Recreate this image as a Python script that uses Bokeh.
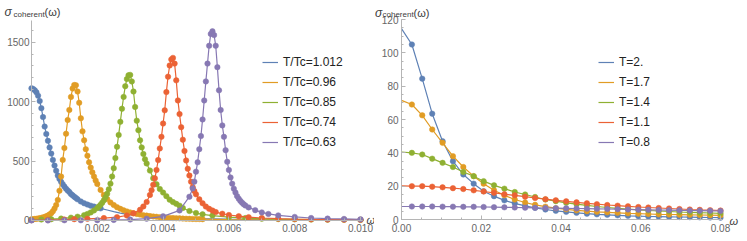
from bokeh.plotting import figure
from bokeh.layouts import row
from bokeh.models import FixedTicker, NumeralTickFormatter, Label, Legend, LegendItem, Range1d
from bokeh.embed import file_html
from bokeh.resources import INLINE

# ---------------- data: left panel (sigma_coherent vs omega, T/Tc) ----------------
left_labels = ["T/Tc=1.012", "T/Tc=0.96", "T/Tc=0.85", "T/Tc=0.74", "T/Tc=0.63"]

blue_w = [0, 0.00005, 0.0001, 0.00015, 0.0002, 0.00025, 0.0003, 0.00035, 0.0004, 0.00045,
          0.0005, 0.00055, 0.0006, 0.00065, 0.0007, 0.00075, 0.0008, 0.00085, 0.0009, 0.00095,
          0.001, 0.00105, 0.0011, 0.00115, 0.0012, 0.00125, 0.0013, 0.00135, 0.0014, 0.0015,
          0.0016, 0.0017, 0.0018, 0.0019, 0.002, 0.0021]
blue_s = [1112, 1107, 1095, 1078, 1050, 1005, 945, 870, 790, 728,
          670, 615, 563, 510, 462, 418, 378, 350, 325, 305,
          285, 268, 253, 240, 222, 212, 200, 190, 178, 160,
          145, 134, 125, 117, 109, 102]
blue_tail_w = [0.0021, 0.0023, 0.0025, 0.0027, 0.003, 0.0035, 0.004, 0.0045, 0.005, 0.006, 0.007, 0.008, 0.009, 0.0101]
blue_tail_s = [102, 88, 74, 62, 48, 34, 25, 20, 16, 11, 8, 6, 5, 4]

orange_w = [0, 0.00005, 0.0001, 0.00015, 0.0002, 0.00025, 0.0003, 0.00035, 0.0004, 0.00045,
            0.0005, 0.00055, 0.0006, 0.00065, 0.0007, 0.00075, 0.0008, 0.00085, 0.0009, 0.00095,
            0.001, 0.00105, 0.0011, 0.00115, 0.0012, 0.00125, 0.0013, 0.00135, 0.0014, 0.00145,
            0.0015, 0.00155, 0.0016, 0.00165, 0.0017, 0.00175, 0.0018, 0.00185, 0.0019, 0.00195,
            0.002, 0.0021, 0.0022, 0.0023, 0.0024, 0.0025, 0.0026, 0.0027, 0.0028, 0.0029,
            0.003, 0.0031, 0.0032, 0.0033, 0.0034, 0.0035, 0.0036, 0.0037, 0.0038, 0.0039,
            0.004, 0.0041, 0.0042, 0.0043, 0.0044, 0.0045, 0.0046, 0.0047, 0.0048, 0.0049,
            0.005, 0.0051, 0.0052]
orange_s = [10, 11, 13, 14, 16, 19, 22, 26, 30, 35,
            42, 50, 62, 77, 100, 130, 173, 250, 370, 510,
            610, 730, 845, 930, 1040, 1110, 1140, 1138, 1085, 990,
            860, 750, 675, 600, 545, 490, 445, 405, 370, 337,
            307, 257, 215, 180, 152, 130, 112, 98, 86, 76,
            68, 61, 55, 50, 45, 41, 37, 34, 31, 28,
            26, 24, 22, 20, 19, 18, 16, 15, 14, 13,
            12, 12, 11]
orange_tail_w = [0.0052, 0.006, 0.007, 0.008, 0.009, 0.0101]
orange_tail_s = [11, 8, 6, 5, 4, 3]

green_w = [0, 0.0003, 0.0006, 0.0009, 0.0012, 0.0014, 0.0016, 0.0017, 0.0018, 0.0019,
           0.002, 0.00205, 0.0021, 0.00215, 0.0022, 0.00225, 0.0023, 0.00235, 0.0024, 0.00245,
           0.0025, 0.00255, 0.0026, 0.00265, 0.0027, 0.00275, 0.0028, 0.00285, 0.0029, 0.00295,
           0.003, 0.00305, 0.0031, 0.00315, 0.0032, 0.00325, 0.0033, 0.00335, 0.0034, 0.00345,
           0.0035, 0.0036, 0.0037, 0.0038, 0.0039, 0.004, 0.0041, 0.0042, 0.0043, 0.0044,
           0.0045, 0.0046, 0.0048, 0.005, 0.0052, 0.0055, 0.006, 0.0065, 0.007, 0.0075,
           0.008, 0.0085, 0.009, 0.0095, 0.01]
green_s = [5, 8, 11, 16, 24, 32, 45, 55, 68, 85,
           105, 118, 132, 150, 170, 195, 225, 262, 310, 370,
           440, 525, 620, 720, 830, 940, 1040, 1130, 1190, 1222,
           1225, 1170, 1085, 955, 840, 760, 675, 615, 560, 515,
           480, 420, 355, 305, 265, 235, 205, 175, 155, 140,
           125, 105, 80, 63, 52, 41, 28, 20, 15, 12,
           10, 8, 7, 6, 5]

red_w = [0, 0.0005, 0.001, 0.0013, 0.0017, 0.0022, 0.0026, 0.0029, 0.0031, 0.0033,
         0.0034, 0.0035, 0.0036, 0.00365, 0.0037, 0.00375, 0.0038, 0.00385, 0.0039, 0.00395,
         0.004, 0.00405, 0.0041, 0.00415, 0.0042, 0.00425, 0.0043, 0.00435, 0.0044, 0.00445,
         0.0045, 0.00455, 0.0046, 0.00465, 0.0047, 0.00475, 0.0048, 0.00485, 0.0049, 0.00495,
         0.005, 0.0051, 0.0052, 0.0053, 0.0054, 0.0055, 0.0056, 0.0058, 0.006, 0.0063,
         0.0066, 0.007, 0.0075, 0.008, 0.0085, 0.009, 0.0095, 0.01]
red_s = [3, 5, 8, 11, 14, 20, 28, 42, 60, 90,
         118, 155, 215, 255, 300, 355, 425, 508, 606, 704,
         816, 927, 1080, 1210, 1304, 1355, 1368, 1320, 1179, 1010,
         895, 785, 680, 585, 505, 435, 378, 327, 280, 248,
         220, 178, 145, 117, 98, 84, 71, 57, 46, 36,
         28, 21, 15, 12, 10, 8, 7, 6]

purple_w = [0, 0.0005, 0.001, 0.0015, 0.002, 0.0025, 0.003, 0.0035, 0.004, 0.0045,
            0.0048, 0.0049, 0.00495, 0.005, 0.00505, 0.0051, 0.00515, 0.0052, 0.00525, 0.0053,
            0.00535, 0.0054, 0.00545, 0.0055, 0.00555, 0.0056, 0.00565, 0.0057, 0.00575, 0.0058,
            0.00585, 0.0059, 0.00595, 0.006, 0.00605, 0.0061, 0.00615, 0.0062, 0.00625, 0.0063,
            0.00635, 0.0064, 0.00645, 0.0065, 0.0066, 0.0068, 0.007, 0.0072, 0.0075, 0.008,
            0.0085, 0.009, 0.0095, 0.01]
purple_s = [1, 1, 2, 2, 3, 5, 8, 15, 35, 85,
            200, 270, 327, 411, 490, 600, 710, 850, 1010, 1170,
            1320, 1470, 1570, 1592, 1560, 1470, 1290, 1095, 930, 800,
            704, 592, 494, 425, 362, 310, 268, 235, 205, 183,
            165, 150, 137, 126, 110, 87, 68, 55, 43, 30,
            21, 16, 13, 10]

# ---------------- data: right panel (sigma_coherent vs omega, T) ----------------
right_labels = ["T=2.", "T=1.7", "T=1.4", "T=1.1", "T=0.8"]
right_w = [0, 0.0026, 0.0052, 0.0077, 0.0103, 0.0129, 0.0155, 0.0181, 0.0206, 0.0232,
           0.0258, 0.0284, 0.031, 0.0335, 0.0361, 0.0387, 0.0413, 0.0439, 0.0465, 0.049,
           0.0516, 0.0542, 0.0568, 0.0594, 0.0619, 0.0645, 0.0671, 0.0697, 0.0723, 0.0748,
           0.0774, 0.08]
right_T2 = [114.5, 105, 84.5, 63.5, 47, 35, 27, 21.5, 17, 14,
            11.5, 9.7, 8.2, 7, 6, 5.2, 4.6, 4, 3.5, 3.1,
            2.8, 2.5, 2.2, 2.0, 1.8, 1.7, 1.6, 1.5, 1.4, 1.3,
            1.2, 1.1]
right_T17 = [71.5, 69, 62.5, 54, 46, 38, 31.5, 26, 21.5, 17.5,
             14.5, 12, 10.2, 8.8, 7.7, 6.8, 6.1, 5.5, 5, 4.6,
             4.3, 4, 3.7, 3.5, 3.3, 3.1, 3, 2.9, 2.8, 2.7,
             2.6, 2.5]
right_T14 = [40.5, 40, 39, 36.5, 34, 31.5, 28.5, 26, 23, 20.5,
             18.5, 16.5, 15, 13.5, 12, 11, 10, 9.2, 8.5, 7.8,
             7.2, 6.7, 6.2, 5.8, 5.4, 5.1, 4.8, 4.5, 4.3, 4.1,
             3.9, 3.7]
right_T11 = [20.2, 20, 20, 19.7, 19.3, 18.8, 18.3, 17.5, 16.8, 16,
             15.2, 14.5, 13.7, 12.9, 12.2, 11.5, 10.9, 10.3, 9.7, 9.2,
             8.7, 8.3, 7.9, 7.5, 7.2, 6.9, 6.6, 6.3, 6.0, 5.8,
             5.6, 5.4]
right_T08 = [7.8, 7.8, 7.8, 7.8, 7.7, 7.7, 7.6, 7.6, 7.5, 7.4,
             7.3, 7.2, 7.1, 7.0, 6.9, 6.8, 6.7, 6.6, 6.5, 6.4,
             6.3, 6.2, 6.0, 5.9, 5.8, 5.7, 5.6, 5.5, 5.4, 5.3,
             5.2, 5.1]

left_xticks = [0.002, 0.004, 0.006, 0.008, 0.010]
left_yticks = [0, 500, 1000, 1500]
right_xticks = [0.0, 0.02, 0.04, 0.06, 0.08]
right_yticks = [0, 20, 40, 60, 80, 100, 120]

COLORS = ["#5E81B5", "#E19C24", "#8FB032", "#EB6235", "#8778B3"]
FONT = "Liberation Sans"
TICK_COLOR = "#666666"
AXIS_COLOR = "#b5b5b5"
TEXT_COLOR = "#404040"


def style_axes(p, xbounds, ybounds, xstand, ystand):
    p.xgrid.visible = False
    p.ygrid.visible = False
    p.outline_line_color = None
    for ax in (p.xaxis[0], p.yaxis[0]):
        ax.fixed_location = 0
        ax.axis_line_color = AXIS_COLOR
        ax.major_tick_line_color = AXIS_COLOR
        ax.minor_tick_line_color = AXIS_COLOR
        ax.major_tick_in = 4
        ax.major_tick_out = 0
        ax.minor_tick_in = 2
        ax.minor_tick_out = 0
        ax.major_label_text_font = FONT
        ax.major_label_text_font_size = "10px"
        ax.major_label_text_color = TICK_COLOR
    p.xaxis[0].bounds = xbounds
    p.yaxis[0].bounds = ybounds
    p.xaxis[0].major_label_standoff = xstand
    p.yaxis[0].major_label_standoff = ystand


def add_header(p, xs, ys):
    p.add_layout(Label(x=xs[0], y=ys[0], text="σ", text_baseline="alphabetic",
                       text_font=FONT, text_font_style="italic", text_font_size="12px",
                       text_color=TEXT_COLOR))
    p.add_layout(Label(x=xs[1], y=ys[1], text="coherent", text_baseline="alphabetic",
                       text_font=FONT, text_font_size="8px", text_color=TEXT_COLOR))
    p.add_layout(Label(x=xs[2], y=ys[0], text="(ω)", text_baseline="alphabetic",
                       text_font=FONT, text_font_size="11px", text_color=TEXT_COLOR))


def add_omega(p, x, y):
    p.add_layout(Label(x=x, y=y, text="ω", text_font=FONT, text_font_style="italic",
                       text_font_size="11px", text_color=TEXT_COLOR, text_baseline="middle"))


def make_legend(p, items, x, y):
    leg = Legend(items=items, location=(x, y), orientation="vertical")
    leg.background_fill_alpha = 0
    leg.border_line_color = None
    leg.padding = 0
    leg.margin = 0
    leg.spacing = 0
    leg.glyph_width = 16
    leg.glyph_height = 20
    leg.label_height = 20
    leg.label_standoff = 5
    leg.label_text_font = FONT
    leg.label_text_font_size = "12px"
    leg.label_text_color = "#222222"
    p.add_layout(leg)


# ---------------- left figure ----------------
p1 = figure(width=374, height=241, output_backend="svg", toolbar_location=None,
            x_range=Range1d(-0.000942, 0.010426), y_range=Range1d(-176.7, 1850.8),
            min_border_left=0, min_border_right=0, min_border_top=0, min_border_bottom=0)
style_axes(p1, (0, 0.01006), (0, 1682), 4, 2)
p1.xaxis.ticker = FixedTicker(ticks=left_xticks,
                              minor_ticks=[0.0005 * i for i in range(1, 21)])
p1.xaxis.formatter = NumeralTickFormatter(format="0.000")
p1.yaxis.ticker = FixedTicker(ticks=left_yticks, minor_ticks=[100 * i for i in range(0, 17)])
p1.yaxis.formatter = NumeralTickFormatter(format="0")

left_series = [(blue_w, blue_s), (orange_w, orange_s), (green_w, green_s), (red_w, red_s), (purple_w, purple_s)]
left_tails = {0: (blue_tail_w, blue_tail_s), 1: (orange_tail_w, orange_tail_s)}
items = []
for i, (w, s) in enumerate(left_series):
    ln = p1.line(w, s, line_color=COLORS[i], line_width=1.2)
    if i in left_tails:
        tw, ts = left_tails[i]
        p1.line(tw, ts, line_color=COLORS[i], line_width=1.2)
    p1.scatter(w, s, size=5.5, fill_color=COLORS[i], line_color=COLORS[i], line_width=0.5)
    items.append(LegendItem(label=left_labels[i], renderers=[ln]))
make_legend(p1, items, 262, 89)
add_header(p1, (-0.000821, -0.000547, 0.000395), (1750, 1737))
add_omega(p1, 0.010182, 0)

# ---------------- right figure ----------------
p2 = figure(width=373, height=241, output_backend="svg", toolbar_location=None,
            x_range=Range1d(-0.006771, 0.086771), y_range=Range1d(-13.2, 131.4),
            min_border_left=0, min_border_right=0, min_border_top=0, min_border_bottom=0)
style_axes(p2, (0, 0.0805), (0, 120), 4, 3)
p2.xaxis.ticker = FixedTicker(ticks=right_xticks, minor_ticks=[0.005 * i for i in range(0, 17)])
p2.xaxis.formatter = NumeralTickFormatter(format="0.00")
p2.yaxis.ticker = FixedTicker(ticks=right_yticks, minor_ticks=[5 * i for i in range(0, 25)])
p2.yaxis.formatter = NumeralTickFormatter(format="0")

right_series = [right_T2, right_T17, right_T14, right_T11, right_T08]
items2 = []
for i, s in enumerate(right_series):
    ln = p2.line(right_w, s, line_color=COLORS[i], line_width=1.2)
    p2.scatter(right_w[1:], s[1:], size=5.5, fill_color=COLORS[i], line_color=COLORS[i], line_width=0.5)
    items2.append(LegendItem(label=right_labels[i], renderers=[ln]))
make_legend(p2, items2, 224, 89)
add_header(p2, (-0.006646, -0.004765, 0.003009), (124.2, 123.3))
add_omega(p2, 0.082257, -0.6)

layout = row(p1, p2)
open("out.html", "w").write(file_html(layout, INLINE))
